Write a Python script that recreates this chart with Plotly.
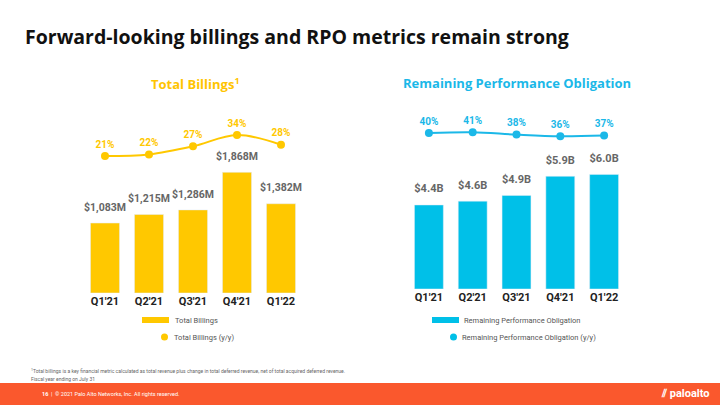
import plotly.graph_objects as go

quarters = ["Q1'21", "Q2'21", "Q3'21", "Q4'21", "Q1'22"]
billings = [1083, 1215, 1286, 1868, 1382]
billings_labels = ["$1,083M", "$1,215M", "$1,286M", "$1,868M", "$1,382M"]
billings_yoy = [21, 22, 27, 34, 28]
rpo = [4.4, 4.6, 4.9, 5.9, 6.0]
rpo_labels = ["$4.4B", "$4.6B", "$4.9B", "$5.9B", "$6.0B"]
rpo_yoy = [40, 41, 38, 36, 37]

W, H = 720, 405
YEL = "#FFC800"
CYA = "#00C0E8"
CYA_T = "#1BB8E8"
GREY = "#666666"

def py(px):
    return 1 - px / H

def px_x(px):
    return px / W

fig = go.Figure()

fig.add_trace(go.Bar(x=quarters, y=billings, marker_color=YEL, xaxis="x", yaxis="y",
                     hoverinfo="skip"))
fig.add_trace(go.Scatter(x=quarters, y=billings, mode="markers+text", text=billings_labels,
                         textposition="top center", cliponaxis=False,
                         marker=dict(size=14, color="rgba(0,0,0,0)"),
                         textfont=dict(family="Roboto", size=10.5, color=GREY, weight="bold"),
                         xaxis="x", yaxis="y", hoverinfo="skip"))
fig.add_trace(go.Scatter(x=quarters, y=billings_yoy, mode="lines+markers+text",
                         text=[f"{v}%" for v in billings_yoy], textposition="top center",
                         line=dict(color=YEL, width=2, shape="spline"),
                         marker=dict(color=YEL, size=8), cliponaxis=False,
                         textfont=dict(family="Roboto", size=10, color=YEL, weight="bold"),
                         xaxis="x", yaxis="y2", hoverinfo="skip"))
fig.add_trace(go.Bar(x=quarters, y=rpo, marker_color=CYA, xaxis="x2", yaxis="y3",
                     hoverinfo="skip"))
fig.add_trace(go.Scatter(x=quarters, y=rpo, mode="markers+text", text=rpo_labels,
                         textposition="top center", cliponaxis=False,
                         marker=dict(size=14, color="rgba(0,0,0,0)"),
                         textfont=dict(family="Roboto", size=11, color=GREY, weight="bold"),
                         xaxis="x2", yaxis="y3", hoverinfo="skip"))
fig.add_trace(go.Scatter(x=quarters, y=rpo_yoy, mode="lines+markers+text",
                         text=[f"{v}%" for v in rpo_yoy], textposition="top center",
                         line=dict(color=CYA_T, width=2, shape="spline"),
                         marker=dict(color=CYA_T, size=8), cliponaxis=False,
                         textfont=dict(family="Roboto", size=10, color=CYA_T, weight="bold"),
                         xaxis="x2", yaxis="y4", hoverinfo="skip"))

# left: baseline 293 px, 0.0646 px per $M ; line 21% at 156 px, 1.615 px/pct
top_px = 100
l_dom = [py(293), py(top_px)]
r_dom = [py(289), py(top_px)]
lb_range = [0, (293 - top_px) / 0.0646]
ll_range = [21 - (293 - 156) / 1.615, 21 + (156 - top_px) / 1.615]
rb_range = [0, (289 - top_px) / 19.1]
rl_range = [40 - (289 - 133) / 0.8, 40 + (133 - top_px) / 0.8]

tickfont = dict(family="Roboto", size=11, color="#222222", weight="bold")
hid = dict(visible=False, fixedrange=True)

fig.update_layout(
    width=W, height=H, margin=dict(l=0, r=0, t=0, b=0),
    paper_bgcolor="white", plot_bgcolor="rgba(0,0,0,0)", showlegend=False,
    bargap=0.34,
    xaxis=dict(domain=[px_x(83), px_x(303)], anchor="y", showgrid=False, showline=False,
               ticks="", tickfont=tickfont, range=[-0.5, 4.5]),
    yaxis=dict(domain=l_dom, range=lb_range, **hid),
    yaxis2=dict(domain=l_dom, range=ll_range, overlaying="y", **hid),
    xaxis2=dict(domain=[px_x(407), px_x(626)], anchor="y3", showgrid=False, showline=False,
                ticks="", tickfont=tickfont, range=[-0.5, 4.5]),
    yaxis3=dict(domain=r_dom, range=rb_range, **hid),
    yaxis4=dict(domain=r_dom, range=rl_range, overlaying="y3", **hid),
)

ann = []
ann.append(dict(text="<b>Forward-looking billings and RPO metrics remain strong</b>",
                x=px_x(23), y=py(37), xref="paper", yref="paper", xanchor="left", yanchor="middle",
                showarrow=False, font=dict(family="Open Sans", size=19.5, color="#111111")))
ann.append(dict(text="<b>Total Billings<sup>1</sup></b>", x=px_x(196), y=py(83), xref="paper", yref="paper",
                xanchor="center", yanchor="middle", showarrow=False,
                font=dict(family="Open Sans", size=13, color="#FFC400")))
ann.append(dict(text="<b>Remaining Performance Obligation</b>", x=px_x(517), y=py(83), xref="paper",
                yref="paper", xanchor="center", yanchor="middle", showarrow=False,
                font=dict(family="Open Sans", size=13, color=CYA_T)))

# legends
leg_font = dict(family="Roboto", size=7.5, color="#555555")
ann.append(dict(text="Total Billings", x=px_x(173), y=py(320), xref="paper", yref="paper",
                xanchor="left", yanchor="middle", showarrow=False, font=leg_font))
ann.append(dict(text="Total Billings (y/y)", x=px_x(172), y=py(337), xref="paper", yref="paper",
                xanchor="left", yanchor="middle", showarrow=False, font=leg_font))
ann.append(dict(text="Remaining Performance Obligation", x=px_x(462), y=py(320), xref="paper",
                yref="paper", xanchor="left", yanchor="middle", showarrow=False, font=leg_font))
ann.append(dict(text="Remaining Performance Obligation (y/y)", x=px_x(460), y=py(337), xref="paper",
                yref="paper", xanchor="left", yanchor="middle", showarrow=False, font=leg_font))

# footnote
fn_font = dict(family="Roboto", size=5, color="#666666")
ann.append(dict(text="<sup>1</sup>Total billings is a key financial metric calculated as total revenue plus change in total deferred revenue, net of total acquired deferred revenue.",
                x=px_x(29), y=py(371), xref="paper", yref="paper", xanchor="left", yanchor="middle",
                showarrow=False, font=fn_font))
ann.append(dict(text="Fiscal year ending on July 31", x=px_x(29), y=py(378.5), xref="paper", yref="paper",
                xanchor="left", yanchor="middle", showarrow=False, font=fn_font))
ann.append(dict(text="<b>16</b>  |  © 2021 Palo Alto Networks, Inc. All rights reserved.",
                x=px_x(40), y=py(394), xref="paper", yref="paper", xanchor="left", yanchor="middle",
                showarrow=False, font=dict(family="Roboto", size=5.5, color="white")))
ann.append(dict(text="<b>⫽ paloalto</b>", x=px_x(712), y=py(393), xref="paper", yref="paper",
                xanchor="right", yanchor="middle", showarrow=False,
                font=dict(family="Roboto", size=11, color="white")))
fig.update_layout(annotations=ann)

shapes = []
shapes.append(dict(type="rect", xref="paper", yref="paper", x0=0, x1=1, y0=0, y1=py(383),
                   fillcolor="#FA582D", line=dict(width=0), layer="below"))
shapes.append(dict(type="rect", xref="paper", yref="paper", x0=px_x(142), x1=px_x(169),
                   y0=py(323), y1=py(317), fillcolor=YEL, line=dict(width=0)))
shapes.append(dict(type="circle", xref="paper", yref="paper", x0=px_x(161), x1=px_x(168),
                   y0=py(340.5), y1=py(333.5), fillcolor=YEL, line=dict(width=0)))
shapes.append(dict(type="rect", xref="paper", yref="paper", x0=px_x(432), x1=px_x(459),
                   y0=py(323), y1=py(317), fillcolor=CYA, line=dict(width=0)))
shapes.append(dict(type="circle", xref="paper", yref="paper", x0=px_x(450), x1=px_x(457),
                   y0=py(340.5), y1=py(333.5), fillcolor=CYA, line=dict(width=0)))
fig.update_layout(shapes=shapes)

fig.write_html("out.html")
